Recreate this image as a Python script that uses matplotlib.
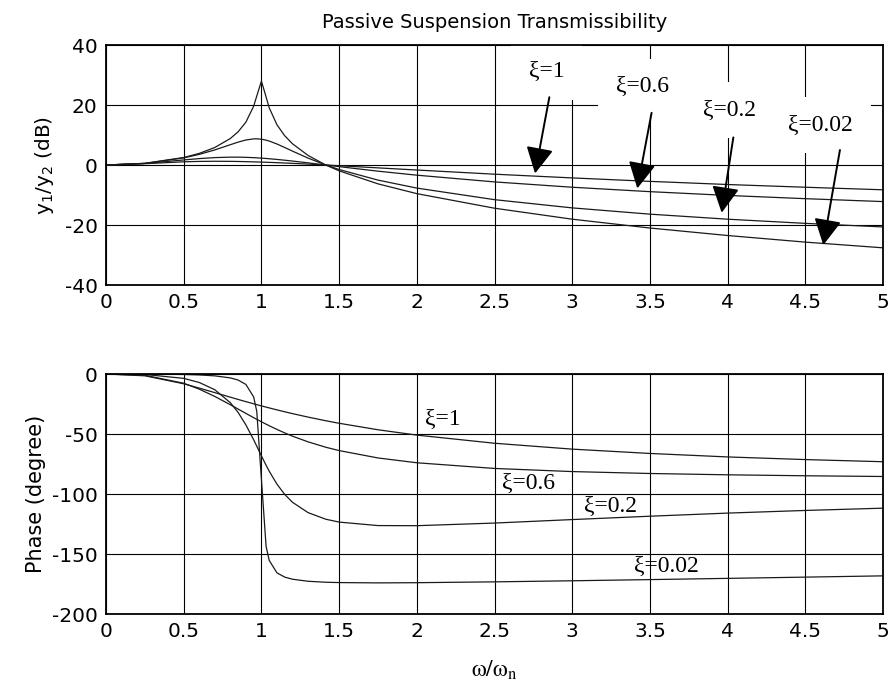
import matplotlib.pyplot as plt
import numpy as np

# frequency ratio w/wn
ratio = [0, 0.25, 0.5, 0.6, 0.7, 0.8, 0.85, 0.9, 0.95, 0.97, 1.0, 1.03, 1.05, 1.1,
         1.15, 1.2, 1.3, 1.414, 1.5, 1.75, 2, 2.5, 3, 3.5, 4, 4.5, 5]

# magnitude y1/y2 in dB
mag_1 = [0, 0.44, 1.07, 1.20, 1.25, 1.22, 1.18, 1.12, 1.05, 1.02, 0.97, 0.92, 0.88, 0.78,
         0.67, 0.55, 0.30, 0, -0.24, -0.95, -1.67, -3.06, -4.30, -5.45, -6.50, -7.41, -8.26]
mag_06 = [0, 0.51, 1.69, 2.14, 2.47, 2.62, 2.62, 2.56, 2.45, 2.39, 2.29, 2.18, 2.09, 1.86,
          1.60, 1.32, 0.72, 0, -0.54, -2.05, -3.39, -5.63, -7.41, -8.88, -10.14, -11.22, -12.19]
mag_02 = [0, 0.55, 2.37, 3.55, 5.03, 6.77, 7.63, 8.34, 8.71, 8.73, 8.60, 8.29, 7.99, 7.00,
          5.84, 4.63, 2.31, 0, -1.50, -5.03, -7.69, -11.55, -14.29, -16.38, -18.06, -19.45, -20.64]
mag_002 = [0, 0.56, 2.50, 3.87, 5.84, 8.84, 11.07, 14.28, 19.6, 23.0, 27.96, 22.7, 19.1, 13.4,
           9.75, 7.08, 3.2, 0, -1.94, -6.28, -9.54, -14.4, -18.06, -21.0, -23.5, -25.7, -27.6]

# phase in degree
ph_1 = [0, -1.5, -8.13, -11.74, -15.52, -19.3, -21.2, -23.02, -24.82, -25.53, -26.57, -27.58,
        -28.25, -29.89, -31.48, -33.0, -35.9, -38.94, -41.05, -46.46, -50.9, -57.7, -62.6,
        -66.2, -69.1, -71.3, -73.1]
ph_06 = [0, -1.05, -7.7, -12.62, -18.7, -25.6, -29.21, -32.82, -36.37, -37.76, -39.8, -41.8,
         -43.09, -46.19, -49.08, -51.8, -56.52, -61.02, -63.8, -69.95, -73.96, -78.7, -81.3,
         -82.9, -84.0, -84.8, -85.4]
ph_02 = [0, -0.38, -3.62, -7.06, -13.1, -23.9, -32.0, -42.4, -54.8, -60.14, -68.2, -76.02,
         -80.93, -91.8, -100.33, -106.9, -115.5, -121.0, -123.4, -126.3, -126.4, -124.2,
         -121.3, -118.5, -115.9, -113.7, -111.8]
ph_002 = [0, -0.04, -0.38, -0.77, -1.54, -3.25, -5.04, -8.67, -19.1, -31.07, -87.7, -143.56,
          -155.3, -165.7, -169.25, -171.0, -172.71, -173.52, -173.8, -174.06, -173.9, -173.2,
          -172.3, -171.32, -170.3, -169.26, -168.2]

xticks = [0, 0.5, 1, 1.5, 2, 2.5, 3, 3.5, 4, 4.5, 5]
xticklabels = ['0', '0.5', '1', '1.5', '2', '2.5', '3', '3.5', '4', '4.5', '5']

# label text, text position, arrow tail, arrow tip (magnitude plot)
mag_labels = ['ξ=1', 'ξ=0.6', 'ξ=0.2', 'ξ=0.02']
mag_text_xy = [(2.836, 31.1), (3.453, 26.1), (4.011, 18.3), (4.599, 13.3)]
mag_tail_xy = [(2.853, 22.6), (3.511, 17.4), (4.037, 9.2), (4.723, 5.0)]
mag_tip_xy = [(2.761, -2.8), (3.419, -7.8), (3.962, -15.9), (4.616, -26.7)]

ph_text_xy = [(2.17, -37.5), (2.72, -91.1), (3.246, -110.0), (3.604, -160.5)]

serif = 'Liberation Serif'
plt.rcParams['axes.unicode_minus'] = False

fig = plt.figure(figsize=(8.91, 6.83), dpi=100)
ax1 = fig.add_axes([0.119, 0.5827, 0.872, 0.3514])
ax2 = fig.add_axes([0.119, 0.1010, 0.872, 0.3514])


def style_axes(ax):
	ax.set_xlim(0, 5)
	ax.set_xticks(xticks)
	ax.set_xticklabels(xticklabels)
	ax.grid(True, color='black', linewidth=0.8)
	ax.set_axisbelow(True)
	ax.tick_params(direction='in', length=0, labelsize=14.5, pad=6)
	for sp in ax.spines.values():
		sp.set_linewidth(1.3)


for mag in [mag_1, mag_06, mag_02, mag_002]:
	ax1.plot(ratio, mag, color='#1a1a1a', linewidth=0.9)
style_axes(ax1)
ax1.set_ylim(-40, 40)
ax1.set_yticks([-40, -20, 0, 20, 40])
ax1.set_ylabel(r'y$_1$/y$_2$ (dB)', fontsize=14.5, labelpad=6)
ax1.set_title('Passive Suspension Transmissibility', fontsize=14, pad=12)

# white boxes hide the grid behind the labels but stay under the frame
for lab, txy, tail, tip in zip(mag_labels, mag_text_xy, mag_tail_xy, mag_tip_xy):
	ax1.text(txy[0], txy[1], lab, family=serif, fontsize=17, ha='center', va='center',
	         zorder=2.2, clip_on=True,
	         bbox=dict(boxstyle='square,pad=0.75', facecolor='white', edgecolor='none'))
	ax1.annotate('', xy=tip, xytext=tail,
	             arrowprops=dict(arrowstyle='-|>,head_length=0.8,head_width=0.42',
	                             color='black', lw=1.4, mutation_scale=20,
	                             shrinkA=0, shrinkB=0))

for ph in [ph_1, ph_06, ph_02, ph_002]:
	ax2.plot(ratio, ph, color='#1a1a1a', linewidth=0.9)
style_axes(ax2)
ax2.set_ylim(-200, 0)
ax2.set_yticks([-200, -150, -100, -50, 0])
ax2.set_ylabel('Phase (degree)', fontsize=15, labelpad=4)
ax2.set_xlabel(r'$\mathrm{\omega/\omega_n}$', fontsize=17, math_fontfamily='stix', labelpad=12)

for lab, txy in zip(mag_labels, ph_text_xy):
	ax2.text(txy[0], txy[1], lab, family=serif, fontsize=17, ha='center', va='center')

fig.savefig('out.png', dpi=100)
